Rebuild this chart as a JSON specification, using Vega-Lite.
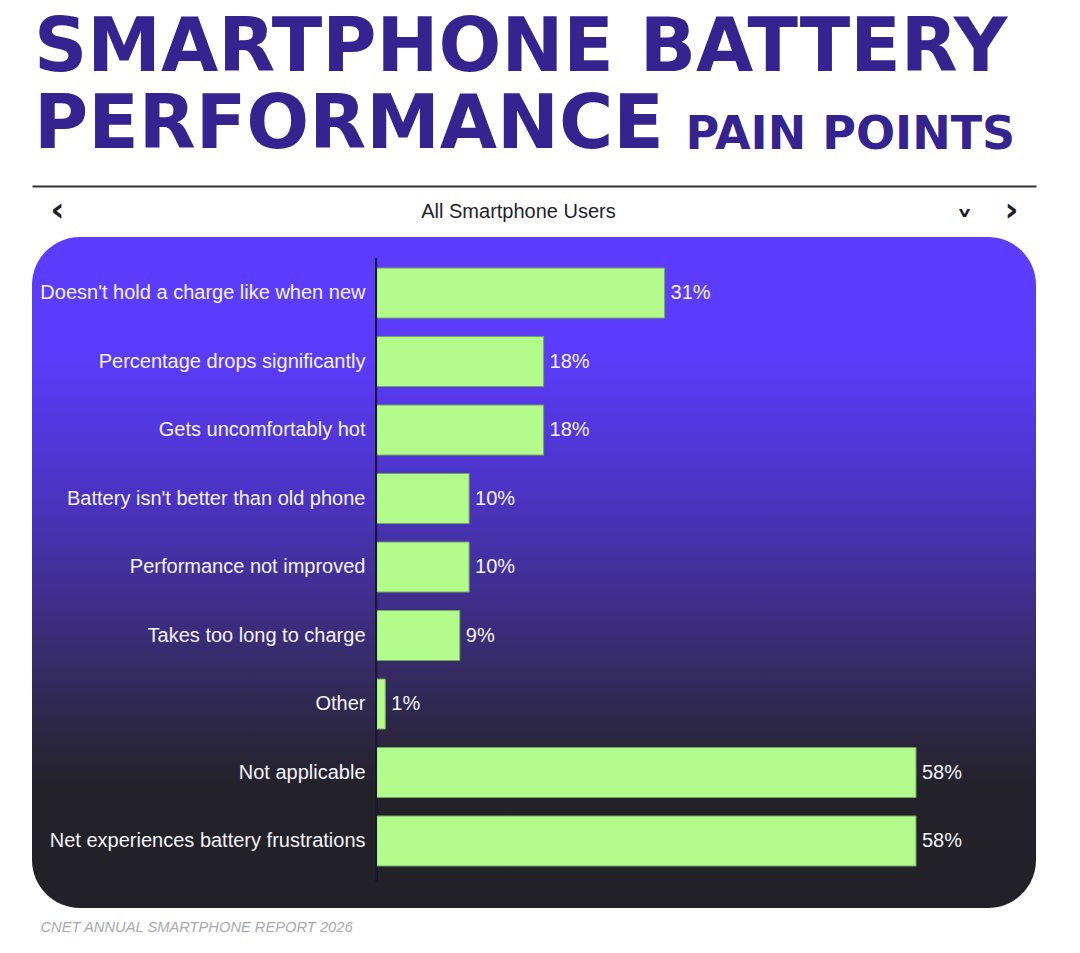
{
  "$schema": "https://vega.github.io/schema/vega-lite/v6.json",
  "description": "Smartphone battery performance pain points, all smartphone users",
  "width": 1004,
  "height": 671,
  "autosize": {"type": "none"},
  "padding": {"left": 32, "top": 237, "right": 44, "bottom": 45},
  "background": "#ffffff",
  "title": {
    "text": ["SMARTPHONE BATTERY", "PERFORMANCE"],
    "anchor": "start",
    "frame": "group",
    "baseline": "alphabetic",
    "dx": 2,
    "offset": -111,
    "font": "DejaVu Sans",
    "fontWeight": "bold",
    "fontSize": 74,
    "lineHeight": 77,
    "color": "#35248f"
  },
  "view": {
    "cornerRadius": 48,
    "stroke": null,
    "fill": {
      "gradient": "linear",
      "x1": 0, "y1": 0, "x2": 0, "y2": 1,
      "stops": [
        {"offset": 0, "color": "#5c3cfe"},
        {"offset": 0.17, "color": "#5b3cfc"},
        {"offset": 0.38, "color": "#4b34c4"},
        {"offset": 0.55, "color": "#3e2e88"},
        {"offset": 0.7, "color": "#2f294f"},
        {"offset": 0.82, "color": "#232229"},
        {"offset": 1, "color": "#222127"}
      ]
    }
  },
  "data": {
    "values": [
      {"label": "Doesn't hold a charge like when new", "share": 0.31},
      {"label": "Percentage drops significantly", "share": 0.18},
      {"label": "Gets uncomfortably hot", "share": 0.18},
      {"label": "Battery isn't better than old phone", "share": 0.10},
      {"label": "Performance not improved", "share": 0.10},
      {"label": "Takes too long to charge", "share": 0.09},
      {"label": "Other", "share": 0.01},
      {"label": "Not applicable", "share": 0.58},
      {"label": "Net experiences battery frustrations", "share": 0.58}
    ]
  },
  "layer": [
    {
      "mark": {"type": "bar", "color": "#b3fb8b", "stroke": "#74a462", "strokeWidth": 1},
      "encoding": {
        "y": {
          "field": "label",
          "type": "nominal",
          "sort": null,
          "scale": {
            "domain": [
              "Doesn't hold a charge like when new",
              "Percentage drops significantly",
              "Gets uncomfortably hot",
              "Battery isn't better than old phone",
              "Performance not improved",
              "Takes too long to charge",
              "Other",
              "Not applicable",
              "Net experiences battery frustrations"
            ],
            "paddingInner": 0.27,
            "paddingOuter": 0.533,
            "align": 0.425
          },
          "axis": {
            "orient": "left",
            "domain": false,
            "ticks": false,
            "grid": false,
            "labelPadding": -333,
            "labelAlign": "right",
            "labelBaseline": "middle",
            "labelLimit": 400,
            "labelFont": "Liberation Sans",
            "labelFontSize": 20,
            "labelColor": "#f4f3fa",
            "title": "PAIN POINTS",
            "titleAngle": 0,
            "titleAlign": "left",
            "titleBaseline": "alphabetic",
            "titleX": 653,
            "titleY": -89,
            "titleFont": "DejaVu Sans",
            "titleFontWeight": "bold",
            "titleFontSize": 46,
            "titleColor": "#35248f"
          }
        },
        "x": {
          "field": "share",
          "type": "quantitative",
          "scale": {"domain": [-0.3695, 0.7089], "nice": false, "zero": false},
          "axis": {
            "orient": "top",
            "offset": 51,
            "values": [-0.3426, 0.6316, 0.682],
            "labelExpr": "datum.value < 0 ? '‹' : datum.value < 0.66 ? '˅' : '›'",
            "labelPadding": {"condition": {"test": "datum.value > 0 && datum.value < 0.66", "value": -39}, "value": -24},
            "labelBaseline": "middle",
            "labelAlign": "center",
            "labelFlush": false,
            "labelOverlap": false,
            "labelFont": "DejaVu Sans",
            "labelFontWeight": "bold",
            "labelFontSize": 34,
            "labelColor": "#1e1e2e",
            "ticks": false,
            "grid": false,
            "domain": true,
            "domainColor": "#333333",
            "domainWidth": 2,
            "title": "All Smartphone Users",
            "titleX": 486,
            "titleY": 25,
            "titleAlign": "center",
            "titleBaseline": "middle",
            "titleFont": "Liberation Sans",
            "titleFontWeight": "normal",
            "titleFontSize": 20,
            "titleColor": "#1e1e2e"
          }
        }
      }
    },
    {
      "mark": {
        "type": "text",
        "align": "left",
        "baseline": "middle",
        "dx": 6,
        "font": "Liberation Sans",
        "fontSize": 20,
        "color": "#f4f3fa"
      },
      "encoding": {
        "y": {"field": "label", "type": "nominal", "sort": null},
        "x": {
          "field": "share",
          "type": "quantitative",
          "axis": {
            "orient": "bottom",
            "labels": false,
            "ticks": false,
            "domain": false,
            "grid": false,
            "title": "CNET ANNUAL SMARTPHONE REPORT 2026",
            "titleX": 8,
            "titleY": 19,
            "titleAlign": "left",
            "titleBaseline": "middle",
            "titleFont": "Liberation Sans",
            "titleFontStyle": "italic",
            "titleFontWeight": "normal",
            "titleFontSize": 14.7,
            "titleColor": "#a9a9ad"
          }
        },
        "text": {"field": "share", "type": "quantitative", "format": ".0%"}
      }
    },
    {
      "mark": {
        "type": "rule",
        "color": "#1d1838",
        "strokeWidth": 2,
        "opacity": 0.7,
        "yOffset": -35,
        "y2Offset": 41
      },
      "encoding": {
        "x": {"datum": 0, "type": "quantitative", "axis": null},
        "y": {"datum": "Doesn't hold a charge like when new", "type": "nominal"},
        "y2": {"datum": "Net experiences battery frustrations"}
      }
    }
  ]
}
